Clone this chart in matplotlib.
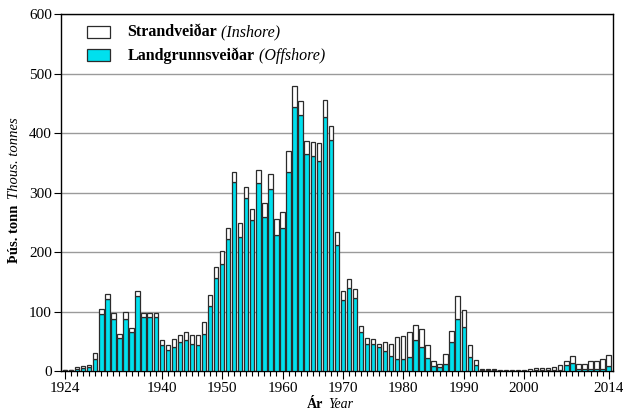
import matplotlib
matplotlib.use("Agg")
import matplotlib.pyplot as plt
from matplotlib.patches import Rectangle
from matplotlib.offsetbox import AnchoredOffsetbox, DrawingArea, HPacker, TextArea, VPacker
from matplotlib.ticker import MultipleLocator

plt.rcParams["font.family"] = ["Liberation Serif", "DejaVu Serif"]

years = list(range(1924, 2015))

# Landgrunnsveiðar (offshore), thous. tonnes
offshore = [
    1, 1.5, 4, 5, 6, 21, 95, 121, 87, 55,
    88, 66, 126, 90, 90, 90, 43, 35, 41, 48,
    52, 46, 44, 63, 109, 156, 180, 222, 318, 226,
    291, 253, 316, 258, 306, 228, 240, 334, 443, 430,
    364, 361, 353, 427, 389, 211, 119, 140, 122, 65,
    45, 46, 41, 34, 26, 21, 20, 24, 52, 41,
    22, 8, 6, 11, 49, 87, 74, 23, 10, 1,
    1, 1, 0.5, 0.5, 0.5, 0.5, 0.5, 0.5, 1, 1,
    1, 1, 2, 10, 13, 4, 3, 4, 4, 3,
    8,
]

# Strandveiðar (inshore), thous. tonnes
inshore = [
    0, 0.5, 3, 3, 4, 9, 10, 9, 10, 8,
    11, 7, 8, 8, 7, 7, 9, 9, 12, 12,
    14, 14, 16, 19, 19, 18, 21, 19, 17, 22,
    19, 20, 21, 24, 25, 27, 27, 35, 36, 23,
    23, 24, 30, 28, 22, 22, 16, 14, 15, 10,
    10, 8, 5, 14, 20, 36, 38, 41, 26, 29,
    21, 9, 5, 18, 19, 39, 29, 20, 8, 2,
    2, 2, 1.5, 1.5, 1.5, 1.5, 1.5, 2.5, 3.5, 4.6,
    4.6, 6, 8, 7, 12, 8, 8, 12, 13, 17,
    19,
]

year_ticks = [1924, 1940, 1950, 1960, 1970, 1980, 1990, 2000, 2014]

CYAN = "#00E0EE"
EDGE = "#2b2b2b"
FS = 11

fig = plt.figure(figsize=(6.23, 4.12), dpi=100)
ax = fig.add_axes([0.0987, 0.0995, 0.885, 0.8665])

ax.bar(years, offshore, width=0.72, color=CYAN, edgecolor=EDGE, linewidth=0.9, zorder=3)
ax.bar(years, inshore, bottom=offshore, width=0.72, color="white",
       edgecolor=EDGE, linewidth=0.9, zorder=3)

ax.set_xlim(1923.4, 2014.7)
ax.set_ylim(0, 600)
ax.set_yticks(range(0, 601, 100))
ax.set_xticks(year_ticks)
ax.xaxis.set_minor_locator(MultipleLocator(1))
ax.yaxis.grid(True, color="#9a9a9a", linewidth=1.0, zorder=0)
ax.set_axisbelow(True)

ax.tick_params(axis="x", which="major", length=6, width=0.8, labelsize=FS, pad=2)
ax.tick_params(axis="x", which="minor", length=3.5, width=0.8)
ax.tick_params(axis="y", which="major", length=5, width=0.8, labelsize=FS, pad=2)
for s in ax.spines.values():
    s.set_linewidth(1.0)

# axis labels: bold Icelandic + italic English
fig.text(323 / 623, 1 - 404 / 412, "Ár", fontsize=10, fontweight="bold",
         ha="right", va="center")
fig.text(328 / 623, 1 - 404 / 412, "Year", fontsize=10, fontstyle="italic",
         ha="left", va="center")
fig.text(15 / 623, 1 - 205 / 412, "Þús. tonn", fontsize=10.5, fontweight="bold",
         rotation=90, ha="center", va="top")
fig.text(15 / 623, 1 - 199 / 412, "Thous. tonnes", fontsize=10.5, fontstyle="italic",
         rotation=90, ha="center", va="bottom")

# legend built by hand so each entry can mix bold and italic
rows = []
for face, name, eng in [("white", "Strandveiðar", "(Inshore)"),
                        (CYAN, "Landgrunnsveiðar", "(Offshore)")]:
    da = DrawingArea(16, 8.5, 0, 0)
    da.add_artist(Rectangle((0, 0), 16, 8.5, facecolor=face, edgecolor=EDGE, linewidth=0.9))
    label = HPacker(children=[
        TextArea(name, textprops=dict(fontsize=11.5, fontweight="bold")),
        TextArea(" " + eng, textprops=dict(fontsize=11.5, fontstyle="italic")),
    ], align="baseline", pad=0, sep=0)
    rows.append(HPacker(children=[da, label], align="center", pad=0, sep=13))
box = VPacker(children=rows, align="left", pad=0, sep=5)
anch = AnchoredOffsetbox(loc="upper left", child=box, frameon=False,
                         bbox_to_anchor=(0.047, 0.972), bbox_transform=ax.transAxes,
                         borderpad=0, pad=0)
ax.add_artist(anch)

fig.savefig("out.png", dpi=100)
